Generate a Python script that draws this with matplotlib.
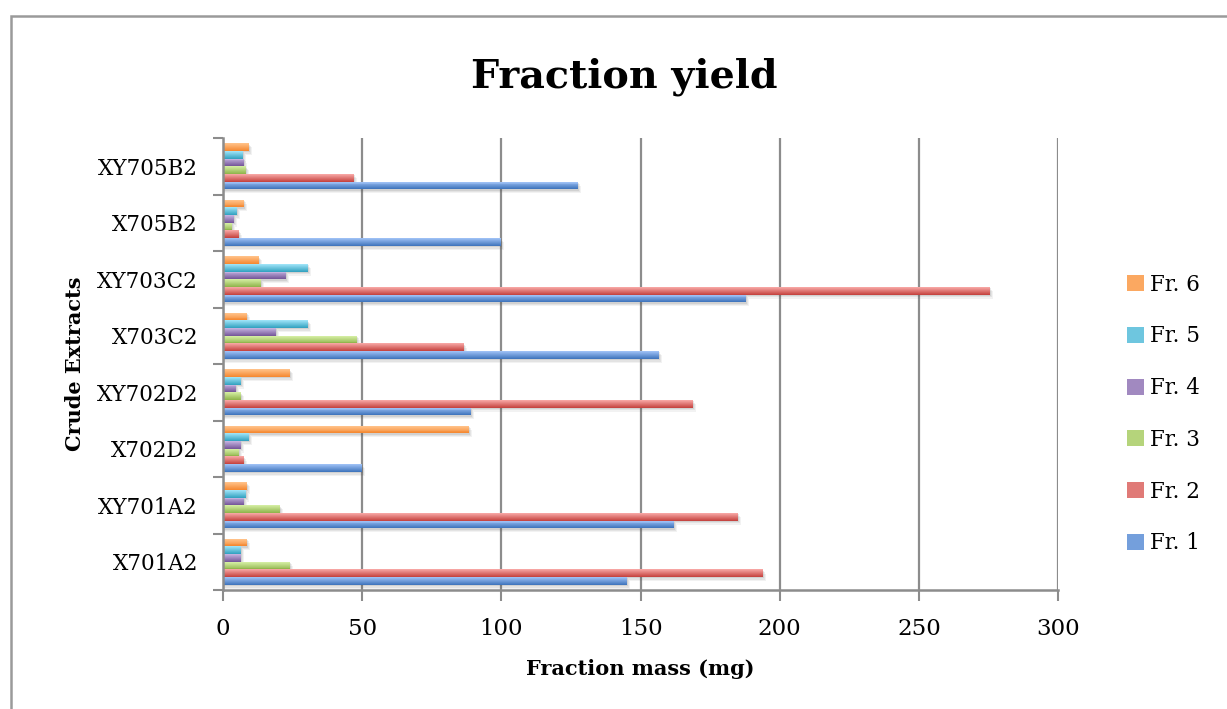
import numpy as np
import matplotlib.pyplot as plt
from matplotlib.patches import Rectangle
from matplotlib.colors import to_rgb

extracts = ['X701A2', 'XY701A2', 'X702D2', 'XY702D2', 'X703C2', 'XY703C2', 'X705B2', 'XY705B2']
fractions = ['Fr. 1', 'Fr. 2', 'Fr. 3', 'Fr. 4', 'Fr. 5', 'Fr. 6']

fr1 = [145, 162, 50, 89, 156.5, 188, 100, 127.5]
fr2 = [194, 185, 7.4, 169, 86.5, 275.5, 5.9, 47]
fr3 = [24.2, 20.3, 5.6, 6.6, 48, 13.8, 3.4, 8.3]
fr4 = [6.3, 7.7, 6.3, 4.5, 19.2, 22.5, 3.8, 7.5]
fr5 = [6.6, 8.1, 9.2, 6.6, 30.7, 30.7, 5.2, 7.2]
fr6 = [8.8, 8.8, 88.5, 23.9, 8.8, 13.1, 7.7, 9.3]

# (light top, dark bottom) for each fraction
colors = [('#9cbff4', '#4277be'), ('#f6a4a2', '#c64642'), ('#d2eca0', '#92b64e'),
          ('#c2b0de', '#785a9c'), ('#9ce2f6', '#36a4c2'), ('#ffc086', '#f58a34')]

series = [fr1, fr2, fr3, fr4, fr5, fr6]

plt.rcParams['font.family'] = ['DejaVu Serif']

fig = plt.figure(figsize=(12.27, 7.09), dpi=100)
ax = fig.add_axes([223 / 1227, 1 - 590 / 709, 835 / 1227, 452 / 709])

# outer chart frame
fig.patches.append(Rectangle((11 / 1227, -0.1), 1.2, 1 - 16 / 709 + 0.1,
                             transform=fig.transFigure, fill=False,
                             edgecolor='#9a9a9a', linewidth=1.8))

h = 0.136
ypos = np.arange(len(extracts))


def mix(c1, c2, t):
    a, b = np.array(to_rgb(c1)), np.array(to_rgb(c2))
    return tuple(a + (b - a) * t)


for k, vals in enumerate(series):
    light, dark = colors[k]
    y = ypos + (k - 2.5) * h
    # soft drop shadow
    for s, al in [(1.8, 0.07), (1.2, 0.09), (0.6, 0.12)]:
        ax.barh(y - 0.04 * s, np.array(vals) + 0.6 * s, height=h, color='#505050',
                alpha=al, linewidth=0, zorder=2)
    # gradient: layers anchored at the top edge, getting lighter and shorter
    n = 8
    top = y + h / 2
    for j in range(n):
        frac = 1 - j / n
        ax.barh(top, vals, height=-h * frac, align='edge',
                color=mix(dark, light, j / (n - 1)), linewidth=0, zorder=3)
    # legend proxy
    ax.barh([np.nan], [0], color=mix(light, dark, 0.45), label=fractions[k])

ax.set_xlim(0, 300)
ax.set_ylim(-0.5, len(extracts) - 0.5)
ax.set_xticks(np.arange(0, 301, 50))
ax.set_yticks(ypos)
ax.set_yticklabels(extracts)
ax.set_yticks(np.arange(-0.5, len(extracts)), minor=True)
ax.tick_params(axis='y', which='major', length=0, pad=18, labelsize=15.5)
ax.tick_params(axis='y', which='minor', length=7, width=1.5, color='#8c8c8c')
ax.tick_params(axis='x', length=8, width=1.5, color='#8c8c8c', labelsize=16.5, pad=12)

ax.grid(axis='x', color='#8c8c8c', linewidth=1.6, zorder=1)
ax.set_axisbelow(True)
for side in ['top', 'right']:
    ax.spines[side].set_visible(False)
for side in ['left', 'bottom']:
    ax.spines[side].set_color('#8c8c8c')
    ax.spines[side].set_linewidth(1.8)
    ax.spines[side].set_zorder(4)

ax.set_xlabel('Fraction mass (mg)', fontsize=15, fontweight='bold', labelpad=14)
ax.set_ylabel('Crude Extracts', fontsize=15, fontweight='bold', labelpad=8)
fig.text(624 / 1227, 1 - 77 / 709, 'Fraction yield', fontsize=28.5, fontweight='bold',
         ha='center', va='center')

handles, labels = ax.get_legend_handles_labels()
fig.legend(handles[::-1], labels[::-1], loc='center left',
           bbox_to_anchor=(1108 / 1227, 1 - 414 / 709), frameon=False, fontsize=15.5,
           handlelength=0.75, handleheight=0.75, handletextpad=0.3, labelspacing=1.38)

fig.savefig('out.png', dpi=100)
